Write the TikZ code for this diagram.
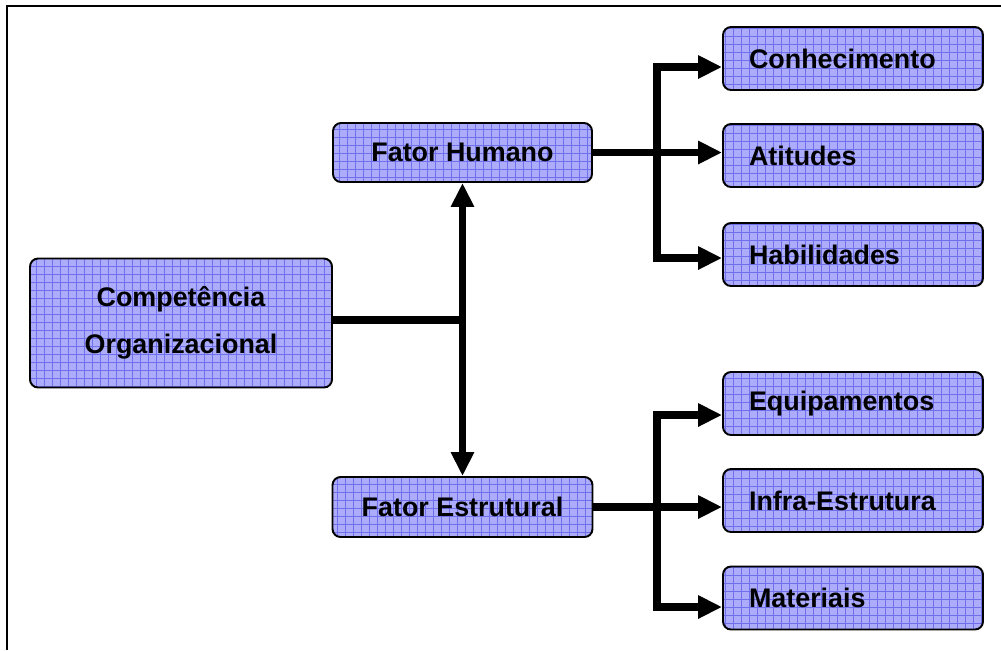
\documentclass[tikz,border=0pt]{standalone}
\usepackage{fontspec}
\setmainfont{Liberation Sans}
\usetikzlibrary{positioning}
\usetikzlibrary{arrows.meta}

\definecolor{boxfill}{RGB}{172,172,250}
\definecolor{boxgrid}{RGB}{112,112,236}

\begin{document}
\begin{tikzpicture}[x=0.02cm, y=-0.02cm,
    box/.style={draw=black, line width=1.1pt, rounded corners=0.16cm, fill=boxfill,
        path picture={\draw[boxgrid, line width=0.35pt, step=0.16cm]
            (path picture bounding box.south west) grid (path picture bounding box.north east);},
        font=\fontsize{15.3}{27}\selectfont\bfseries, minimum height=1.26cm},
    leaf/.style={box, text width=4.16cm, inner xsep=0.52cm, align=left},
    link/.style={line width=4pt, line join=miter},
    tip/.style={link, -{Triangle[length=0.48cm, width=0.44cm]}},
    twotip/.style={link, {Triangle[length=0.48cm, width=0.44cm]}-{Triangle[length=0.48cm, width=0.44cm]}}]

\useasboundingbox (0,0) rectangle (1001,650);

% Frame
\draw[line width=1.1pt] (7,650) -- (7,6) -- (1001,6);

% Main nodes
\node[box, minimum width=6.04cm, minimum height=2.58cm, align=center] (comp) at (181,323) {Competência\\Organizacional};
\node[box, minimum width=5.18cm, minimum height=1.18cm] (human) at (462.5,152.5) {Fator Humano};
\node[box, minimum width=5.2cm, minimum height=1.2cm] (struct) at (462.5,507) {Fator Estrutural};

% Leaf nodes
\foreach \name/\y/\txt in {know/58.5/Conhecimento, attit/155.5/Atitudes, skill/254.5/Habilidades,
                           equip/403.5/Equipamentos, infra/500.5/Infra-Estrutura, mater/598/Materiais} {
    \node[leaf] (\name) at (853,\y) {\txt};
}

% Competence to both factors
\coordinate (split) at (462.5,320);
\draw[link] (comp.east |- split) -- (split);
\draw[tip] (split) -- (human.south);
\draw[tip] (split) -- (struct.north);

% Human factor branches
\coordinate (hup) at (657,67);
\coordinate (hdown) at (657,258);
\draw[tip] (human.east) -- (human.east -| attit.west);
\draw[twotip] (hup -| know.west) -- (hup) -- (hdown) -- (hdown -| skill.west);

% Structural factor branches
\coordinate (sup) at (657,415);
\coordinate (sdown) at (657,607);
\draw[tip] (struct.east) -- (struct.east -| infra.west);
\draw[twotip] (sup -| equip.west) -- (sup) -- (sdown) -- (sdown -| mater.west);

\end{tikzpicture}
\end{document}
